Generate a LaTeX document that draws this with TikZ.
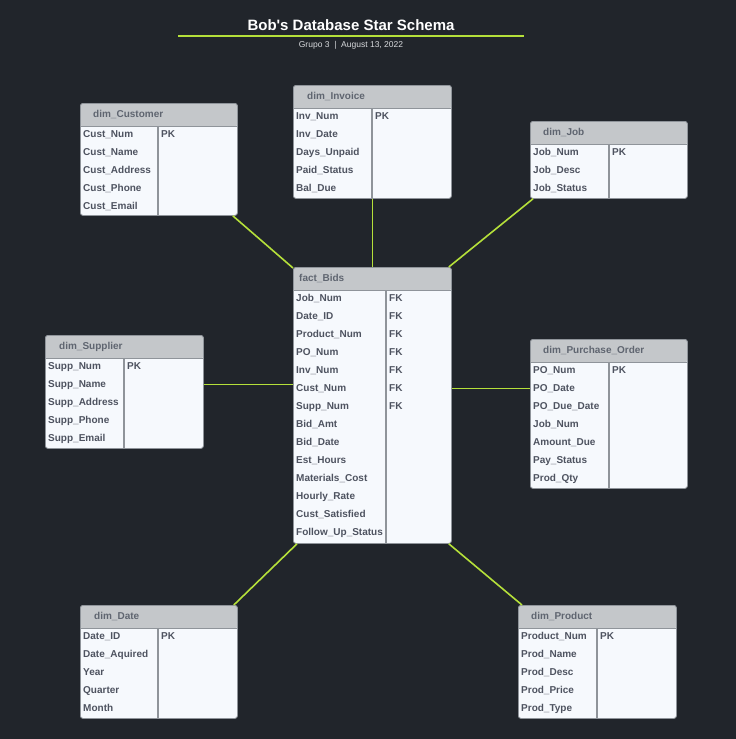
\documentclass[tikz,border=0pt]{standalone}
\usepackage{fontspec}
\setmainfont{Liberation Sans}
\newfontfamily\plainsans{Liberation Sans}
\definecolor{bg}{HTML}{21252B}
\definecolor{hdrfill}{HTML}{C4C7CA}
\definecolor{bodyfill}{HTML}{F6F9FD}
\definecolor{edge}{HTML}{8F949A}
\definecolor{rowtext}{HTML}{4E5360}
\definecolor{hdrtext}{HTML}{5F6570}
\definecolor{limeline}{HTML}{B5E03A}
\definecolor{subtext}{HTML}{D8DADD}
\tikzset{
  tblbox/.style={draw=edge, line width=0.8pt, fill=bodyfill, rounded corners=2.5pt, inner sep=0pt, anchor=north west},
  hdrtxt/.style={text=hdrtext, font=\fontsize{10}{12}\selectfont\bfseries, anchor=west, inner sep=0pt, text height=7.3pt, text depth=2.2pt},
  rowtxt/.style={text=rowtext, font=\fontsize{10}{12}\selectfont\bfseries, anchor=west, inner sep=0pt, text height=7.3pt, text depth=2.2pt},
  link/.style={draw=limeline, line width=1.6pt},
}
% #1 name, #2 x0, #3 y0, #4 x1, #5 y1, #6 divider x, #7 title, #8 header offset, #9 rows
\newcommand\dbtable[9]{%
  \node[tblbox, minimum width={#4pt-#2pt}, minimum height={#5pt-#3pt},
    path picture={\fill[hdrfill] (path picture bounding box.north west) rectangle ([yshift=-23pt]path picture bounding box.north east);}]
    (#1) at (#2,#3) {};
  \draw[edge, line width=0.8pt] (#2,#3+23) -- (#4,#3+23);
  \draw[edge, line width=1.2pt] (#6,#3+23) -- (#6,#5);
  \node[hdrtxt] (#1-title) at (#2+#8,#3+11.5) {#7};
  \foreach \t [count=\i] in {#9} {
    \node[rowtxt] (#1-r\i) at (#2+3,#3+31.5+\i*18-18) {\t};
  }
}
% #1 name, #2 divider x, #3 y0, #4 keys
\newcommand\dbkeys[4]{%
  \foreach \k [count=\i] in {#4} {
    \node[rowtxt] (#1-k\i) at (#2+3,#3+31.5+\i*18-18) {\k};
  }
}
\begin{document}
\begin{tikzpicture}[x=1pt,y=-1pt]
\fill[bg] (0,0) rectangle (736,739);
\useasboundingbox (0,0) rectangle (736,739);

% title
\node[text=white, font=\plainsans\fontsize{15}{18}\selectfont\bfseries, inner sep=0pt] (title) at (351,25) {Bob's Database Star Schema};
\coordinate (ulA) at (178,35.5);
\coordinate (ulB) at (524,35.5);
\draw[limeline, line width=2pt] (ulA) -- (ulB);
\node[text=subtext, font=\fontsize{8.5}{10}\selectfont, inner sep=0pt] (subtitle) at (351,45) {Grupo 3~~|~~August 13, 2022};

\dbtable{cust}{80}{103}{237}{215}{158}{dim\_Customer}{13}{Cust\_Num,Cust\_Name,Cust\_Address,Cust\_Phone,Cust\_Email}
\dbkeys{cust}{158}{103}{PK}

\dbtable{inv}{293}{85}{451}{198}{372}{dim\_Invoice}{14}{Inv\_Num,Inv\_Date,Days\_Unpaid,Paid\_Status,Bal\_Due}
\dbkeys{inv}{372}{85}{PK}

\dbtable{job}{530}{121}{687}{198}{609}{dim\_Job}{13}{Job\_Num,Job\_Desc,Job\_Status}
\dbkeys{job}{609}{121}{PK}

\dbtable{fact}{293}{267}{451}{543}{386}{fact\_Bids}{6}{Job\_Num,Date\_ID,Product\_Num,PO\_Num,Inv\_Num,Cust\_Num,Supp\_Num,Bid\_Amt,Bid\_Date,Est\_Hours,Materials\_Cost,Hourly\_Rate,Cust\_Satisfied,Follow\_Up\_Status}
\dbkeys{fact}{386}{267}{FK,FK,FK,FK,FK,FK,FK}

\dbtable{supp}{45}{335}{203}{448}{124}{dim\_Supplier}{14}{Supp\_Num,Supp\_Name,Supp\_Address,Supp\_Phone,Supp\_Email}
\dbkeys{supp}{124}{335}{PK}

\dbtable{po}{530}{339}{687}{488}{609}{dim\_Purchase\_Order}{13}{PO\_Num,PO\_Date,PO\_Due\_Date,Job\_Num,Amount\_Due,Pay\_Status,Prod\_Qty}
\dbkeys{po}{609}{339}{PK}

\dbtable{date}{80}{605}{237}{718}{158}{dim\_Date}{14}{Date\_ID,Date\_Aquired,Year,Quarter,Month}
\dbkeys{date}{158}{605}{PK}

\dbtable{prod}{518}{605}{676}{718}{597}{dim\_Product}{13}{Product\_Num,Prod\_Name,Prod\_Desc,Prod\_Price,Prod\_Type}
\dbkeys{prod}{597}{605}{PK}

% connectors
\draw[link] ([xshift=-5pt]cust.south east) -- ([yshift=-1pt]fact.north west);
\draw[link] (inv.south) -- (inv.south |- fact.north);
\draw[link] ([xshift=3pt]job.south west) -- ([xshift=-3pt]fact.north east);
\draw[link] ([yshift=4pt]supp.east |- fact-r6) -- ([yshift=4pt]fact.west |- fact-r6);
\draw[link] (fact.east |- po-r2) -- (po.west |- po-r2);
\draw[link] ([xshift=4pt]fact.south west) -- ([xshift=-4pt]date.north east);
\draw[link] ([xshift=-3pt]fact.south east) -- ([xshift=4pt]prod.north west);
\end{tikzpicture}
\end{document}
